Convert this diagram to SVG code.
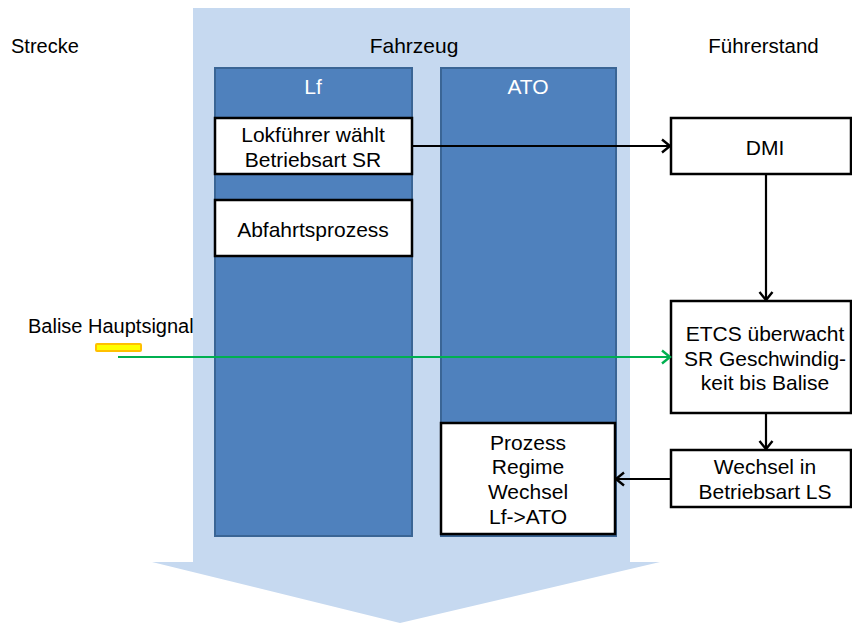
<svg xmlns="http://www.w3.org/2000/svg" width="852" height="623" viewBox="0 0 852 623">
<style>
text{font-family:"Liberation Sans",Arial,sans-serif;font-size:21px;text-anchor:middle;fill:#000}
.lbl{text-anchor:start;font-size:20px}
.col{fill:#4F81BD;stroke:#3A6595;stroke-width:2}
.box{fill:#fff;stroke:#000;stroke-width:2.5}
.wt{fill:#fff}
.c{fill:none;stroke:#000;stroke-width:2.2}
</style>
<defs>
<marker id="ah" markerWidth="12" markerHeight="16" refX="10" refY="8" orient="auto" markerUnits="userSpaceOnUse">
<path d="M2,1.5 L10,8 L2,14.5" fill="none" stroke="#000" stroke-width="2.4"/>
</marker>
<marker id="ahg" markerWidth="12" markerHeight="16" refX="10" refY="8" orient="auto" markerUnits="userSpaceOnUse">
<path d="M2,1.5 L10,8 L2,14.5" fill="none" stroke="#00B050" stroke-width="2.4"/>
</marker>
</defs>
<g id="balise">
<text class="lbl" x="28" y="333">Balise Hauptsignal</text>
<rect x="96" y="344" width="45" height="7" fill="#FFFF00" stroke="#FFC000" stroke-width="2" rx="1"/>
</g>
<g id="fahrzeug">
<path d="M193,8 H630 V562 H660 L400,623 L152,562 H193 Z" fill="#C6D9F0"/>
<text x="414" y="53">Fahrzeug</text>
</g>
<text class="lbl" x="11" y="53">Strecke</text>
<text x="763.5" y="53" style="font-size:20.5px">Führerstand</text>
<g id="lf">
<rect class="col" x="215" y="68" width="197" height="468"/>
<text class="wt" x="313" y="94">Lf</text>
</g>
<g id="ato">
<rect class="col" x="441" y="68" width="175" height="468"/>
<text class="wt" x="528" y="94">ATO</text>
</g>
<g id="lokfuehrer">
<rect class="box" x="215" y="118" width="197" height="56"/>
<text x="313" y="141.5">Lokführer wählt</text>
<text x="313" y="166.5">Betriebsart SR</text>
</g>
<g id="abfahrt">
<rect class="box" x="215" y="200" width="197" height="56"/>
<text x="313" y="236.5">Abfahrtsprozess</text>
</g>
<g id="prozess">
<rect class="box" x="441" y="423" width="174" height="111"/>
<text x="528" y="449.5">Prozess</text>
<text x="528" y="474">Regime</text>
<text x="528" y="498.5">Wechsel</text>
<text x="528" y="523.5">Lf-&gt;ATO</text>
</g>
<g id="dmi">
<rect class="box" x="671" y="118" width="180" height="56"/>
<text x="765" y="155">DMI</text>
</g>
<g id="etcs">
<rect class="box" x="671" y="301" width="180" height="112"/>
<text x="765" y="341">ETCS überwacht</text>
<text x="765" y="365.5">SR Geschwindig-</text>
<text x="765" y="390">keit bis Balise</text>
</g>
<g id="wechsel">
<rect class="box" x="671" y="450" width="180" height="57"/>
<text x="765" y="473.5">Wechsel in</text>
<text x="765" y="498.5">Betriebsart LS</text>
</g>
<g id="connectors">
<line class="c" x1="412" y1="146" x2="670" y2="146" marker-end="url(#ah)"/>
<line class="c" x1="766" y1="174" x2="766" y2="300" marker-end="url(#ah)"/>
<line class="c" x1="766" y1="413" x2="766" y2="449" marker-end="url(#ah)"/>
<line class="c" x1="671" y1="479" x2="616" y2="479" marker-end="url(#ah)"/>
<line x1="118" y1="357" x2="670" y2="357" stroke="#00B050" stroke-width="2.2" marker-end="url(#ahg)"/>
</g>
</svg>
